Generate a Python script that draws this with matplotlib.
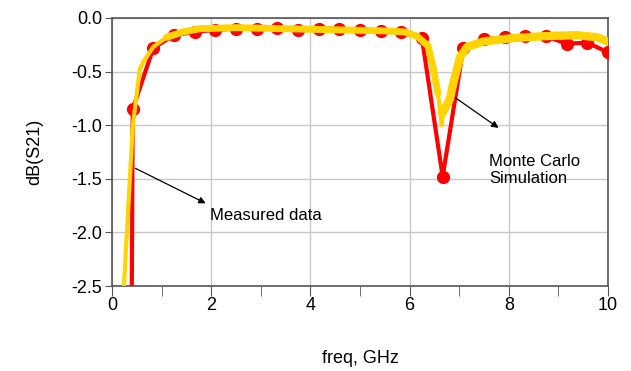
import numpy as np
import matplotlib.pyplot as plt

plt.rcParams['font.family'] = ['Liberation Sans', 'DejaVu Sans']

# measured S21 (red, with markers)
meas_freq = [0.0, 0.417, 0.833, 1.25, 1.667, 2.083, 2.5, 2.917, 3.333, 3.75, 4.167,
             4.583, 5.0, 5.417, 5.833, 6.25, 6.667, 7.083, 7.5, 7.917, 8.333,
             8.75, 9.167, 9.583, 10.0]
meas_db = [-40.0, -0.85, -0.28, -0.16, -0.13, -0.11, -0.10, -0.10, -0.09, -0.11, -0.10,
           -0.10, -0.11, -0.12, -0.13, -0.19, -1.48, -0.28, -0.20, -0.18, -0.17,
           -0.17, -0.24, -0.23, -0.32]

# Monte Carlo simulation (yellow)
sim_freq = [0.24, 0.42, 0.56, 0.63, 0.83, 1.1, 1.43, 1.77, 2.5, 3.5, 4.5, 5.5, 5.9,
            6.15, 6.37, 6.47, 6.57, 6.65, 6.67, 6.81, 6.88, 7.02, 7.16, 7.48, 8.02,
            8.69, 9.37, 9.78, 10.0]
sim_db = [-2.5, -1.0, -0.48, -0.41, -0.27, -0.18, -0.13, -0.10, -0.09, -0.10, -0.11,
          -0.12, -0.13, -0.17, -0.26, -0.45, -0.70, -1.0, -0.88, -0.76, -0.61, -0.36,
          -0.27, -0.22, -0.19, -0.17, -0.16, -0.18, -0.22]

fig = plt.figure(figsize=(6.31, 3.71), dpi=100)
ax = fig.add_axes([0.1775, 0.229, 0.786, 0.7225])

ax.plot(meas_freq, meas_db, color='#ff0000', lw=3, marker='o', ms=8.5, zorder=3)
# spread of the Monte Carlo runs: thin near the band edge, wider elsewhere
ax.plot(sim_freq, sim_db, color='#ffd400', lw=3, solid_joinstyle='round', zorder=4)
ax.plot(sim_freq[5:17], sim_db[5:17], color='#ffd400', lw=5,
        solid_joinstyle='round', solid_capstyle='round', zorder=4)
ax.plot(sim_freq[18:], sim_db[18:], color='#ffd400', lw=6,
        solid_joinstyle='round', zorder=4)

ax.set_xlim(0, 10)
ax.set_ylim(-2.5, 0.0)
ax.set_xticks(np.arange(0, 11, 2))
ax.set_xticks(np.arange(1, 10, 2), minor=True)
ax.set_yticks(np.arange(-2.5, 0.01, 0.5))
ax.set_yticklabels(['-2.5', '-2.0', '-1.5', '-1.0', '-0.5', '0.0'])
ax.grid(True, color='#c8c8c8', lw=1)
ax.set_axisbelow(True)

for s in ax.spines.values():
    s.set_color('#555555')
    s.set_linewidth(1.2)
ax.tick_params(axis='x', which='both', direction='out', length=7, color='#555555',
               labelsize=13, pad=1)
ax.tick_params(axis='y', which='both', direction='out', length=5, color='#555555',
               labelsize=13, pad=2)

ax.set_xlabel('freq, GHz', fontsize=13, labelpad=26)
ax.set_ylabel('dB(S21)', fontsize=13, labelpad=20)

arrow = dict(arrowstyle='-|>', color='black', lw=0.9, mutation_scale=10)
ax.annotate('', xy=(1.94, -1.74), xytext=(0.42, -1.39), arrowprops=arrow)
ax.text(1.98, -1.84, 'Measured data', fontsize=12, va='center', ha='left')
ax.annotate('', xy=(7.84, -1.04), xytext=(6.88, -0.73), arrowprops=arrow)
ax.text(7.6, -1.42, 'Monte Carlo\nSimulation', fontsize=12, va='center', ha='left',
        linespacing=1.15)

fig.savefig('out.png', dpi=100)
